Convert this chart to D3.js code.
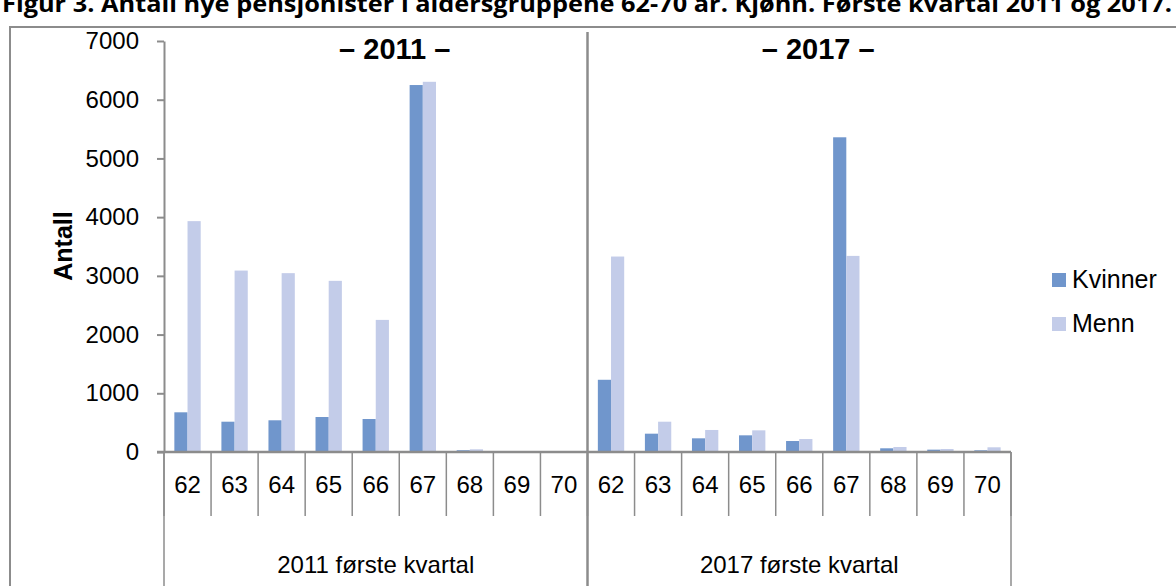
<!DOCTYPE html>
<html>
<head>
<meta charset="utf-8">
<script src="https://cdn.jsdelivr.net/npm/d3@7"></script>
<style>
  body { margin: 0; background: #fff; }
  svg { display: block; font-family: "Liberation Sans", Arial, sans-serif; }
</style>
</head>
<body>
<div id="chart"></div>
<script>
// data
const ages = ["62", "63", "64", "65", "66", "67", "68", "69", "70"];
const years = ["2011", "2017"];
const groupLabels = ["2011 første kvartal", "2017 første kvartal"];
const panelTitles = ["– 2011 –", "– 2017 –"];
const seriesNames = ["Kvinner", "Menn"];
const kvinner2011 = [676, 516, 540, 596, 562, 6250, 30, 8, 3];
const menn2011 = [3932, 3090, 3046, 2915, 2250, 6305, 46, 12, 4];
const kvinner2017 = [1230, 312, 233, 284, 187, 5360, 63, 40, 29];
const menn2017 = [3329, 516, 375, 369, 221, 3340, 85, 51, 80];
const yTicks = [0, 1000, 2000, 3000, 4000, 5000, 6000, 7000];

const colors = { Kvinner: "#7096cc", Menn: "#c3cce9" };
const axisGrey = "#8c8c8c";

const W = 1176, H = 586;
const svg = d3.select("#chart").append("svg")
  .attr("width", W)
  .attr("height", H);

// rows for the bars
const rows = [];
years.forEach(function(yr, gi) {
  const k = gi === 0 ? kvinner2011 : kvinner2017;
  const m = gi === 0 ? menn2011 : menn2017;
  ages.forEach(function(a, i) {
    rows.push({ key: yr + "-" + a, year: yr, age: a, Kvinner: k[i], Menn: m[i] });
  });
});

const plotLeft = 164, plotRight = 1011, plotBase = 452, plotTop = 41;

const x0 = d3.scaleBand()
  .domain(rows.map(d => d.key))
  .range([plotLeft, plotRight])
  .padding(0);
const bw = x0.bandwidth();
const x1 = d3.scaleBand()
  .domain(seriesNames)
  .range([bw * 0.22, bw * 0.78])
  .padding(0);
const y = d3.scaleLinear()
  .domain([0, 7000])
  .range([plotBase, plotTop]);

const xg = d3.scaleBand().domain(years).range([plotLeft, plotRight]);

// title, cut off at the top edge like in the picture
svg.append("text")
  .attr("x", 2)
  .attr("y", 12)
  .attr("textLength", 1170)
  .attr("lengthAdjust", "spacingAndGlyphs")
  .style("font-family", "'Open Sans', 'Liberation Sans', sans-serif")
  .style("font-weight", "bold")
  .style("font-size", "24px")
  .text("Figur 3. Antall nye pensjonister i aldersgruppene 62-70 år. Kjønn. Første kvartal 2011 og 2017.");

// outer frame
svg.append("rect")
  .attr("x", 10)
  .attr("y", 27)
  .attr("width", 1200)
  .attr("height", 600)
  .attr("fill", "none")
  .attr("stroke", axisGrey)
  .attr("stroke-width", 2);

// bars
const groups = svg.append("g").selectAll("g")
  .data(rows)
  .join("g")
  .attr("transform", d => "translate(" + x0(d.key) + ",0)");

groups.selectAll("rect")
  .data(d => seriesNames.map(s => ({ s: s, v: d[s] })))
  .join("rect")
  .attr("x", d => x1(d.s))
  .attr("width", x1.bandwidth())
  .attr("y", d => y(d.v))
  .attr("height", d => plotBase - y(d.v))
  .attr("fill", d => colors[d.s]);

// y axis
const yAxis = svg.append("g")
  .attr("transform", "translate(" + plotLeft + ",0)")
  .call(d3.axisLeft(y).tickValues(yTicks).tickFormat(d3.format("d"))
    .tickSize(7).tickPadding(18).tickSizeOuter(0));
yAxis.select(".domain").attr("stroke", axisGrey).attr("stroke-width", 2);
yAxis.selectAll(".tick line").attr("stroke", axisGrey).attr("stroke-width", 2);
yAxis.selectAll(".tick text")
  .style("font-size", "24px")
  .attr("fill", "#000");

// x axis line
svg.append("line")
  .attr("x1", plotLeft - 7).attr("x2", plotRight)
  .attr("y1", plotBase).attr("y2", plotBase)
  .attr("stroke", axisGrey).attr("stroke-width", 2.5);

// separators between ages
const ageEdges = rows.map(d => x0(d.key)).concat([plotRight]);
svg.append("g").selectAll("line")
  .data(ageEdges)
  .join("line")
  .attr("x1", d => d).attr("x2", d => d)
  .attr("y1", plotBase).attr("y2", 516)
  .attr("stroke", axisGrey).attr("stroke-width", 1.5);

// separators between the two quarters
const groupEdges = [plotLeft, xg("2017"), plotRight];
svg.append("g").selectAll("line")
  .data(groupEdges)
  .join("line")
  .attr("x1", d => d).attr("x2", d => d)
  .attr("y1", (d, i) => i === 1 ? 32 : plotBase)
  .attr("y2", 586)
  .attr("stroke", axisGrey).attr("stroke-width", (d, i) => i === 1 ? 2.5 : 1.5);

// age labels
svg.append("g").selectAll("text")
  .data(rows)
  .join("text")
  .attr("x", d => x0(d.key) + bw / 2)
  .attr("y", 493)
  .attr("text-anchor", "middle")
  .style("font-size", "24px")
  .text(d => d.age);

// quarter labels
svg.append("g").selectAll("text")
  .data(years)
  .join("text")
  .attr("x", d => xg(d) + xg.bandwidth() / 2)
  .attr("y", 573)
  .attr("text-anchor", "middle")
  .style("font-size", "24px")
  .text((d, i) => groupLabels[i]);

// panel titles
svg.append("g").selectAll("text")
  .data(panelTitles)
  .join("text")
  .attr("x", (d, i) => xg(years[i]) + xg.bandwidth() / 2 + 19)
  .attr("y", 59)
  .attr("text-anchor", "middle")
  .style("font-size", "29px")
  .style("font-weight", "bold")
  .text(d => d);

// y label
svg.append("text")
  .attr("transform", "translate(72,246) rotate(-90)")
  .attr("text-anchor", "middle")
  .style("font-size", "25px")
  .style("font-weight", "bold")
  .text("Antall");

// legend
const legend = svg.append("g").selectAll("g")
  .data(seriesNames)
  .join("g")
  .attr("transform", (d, i) => "translate(1052," + (273 + i * 44) + ")");
legend.append("rect")
  .attr("width", 14).attr("height", 14)
  .attr("fill", d => colors[d]);
legend.append("text")
  .attr("x", 20)
  .attr("y", 15)
  .style("font-size", "25px")
  .text(d => d);
</script>
</body>
</html>
